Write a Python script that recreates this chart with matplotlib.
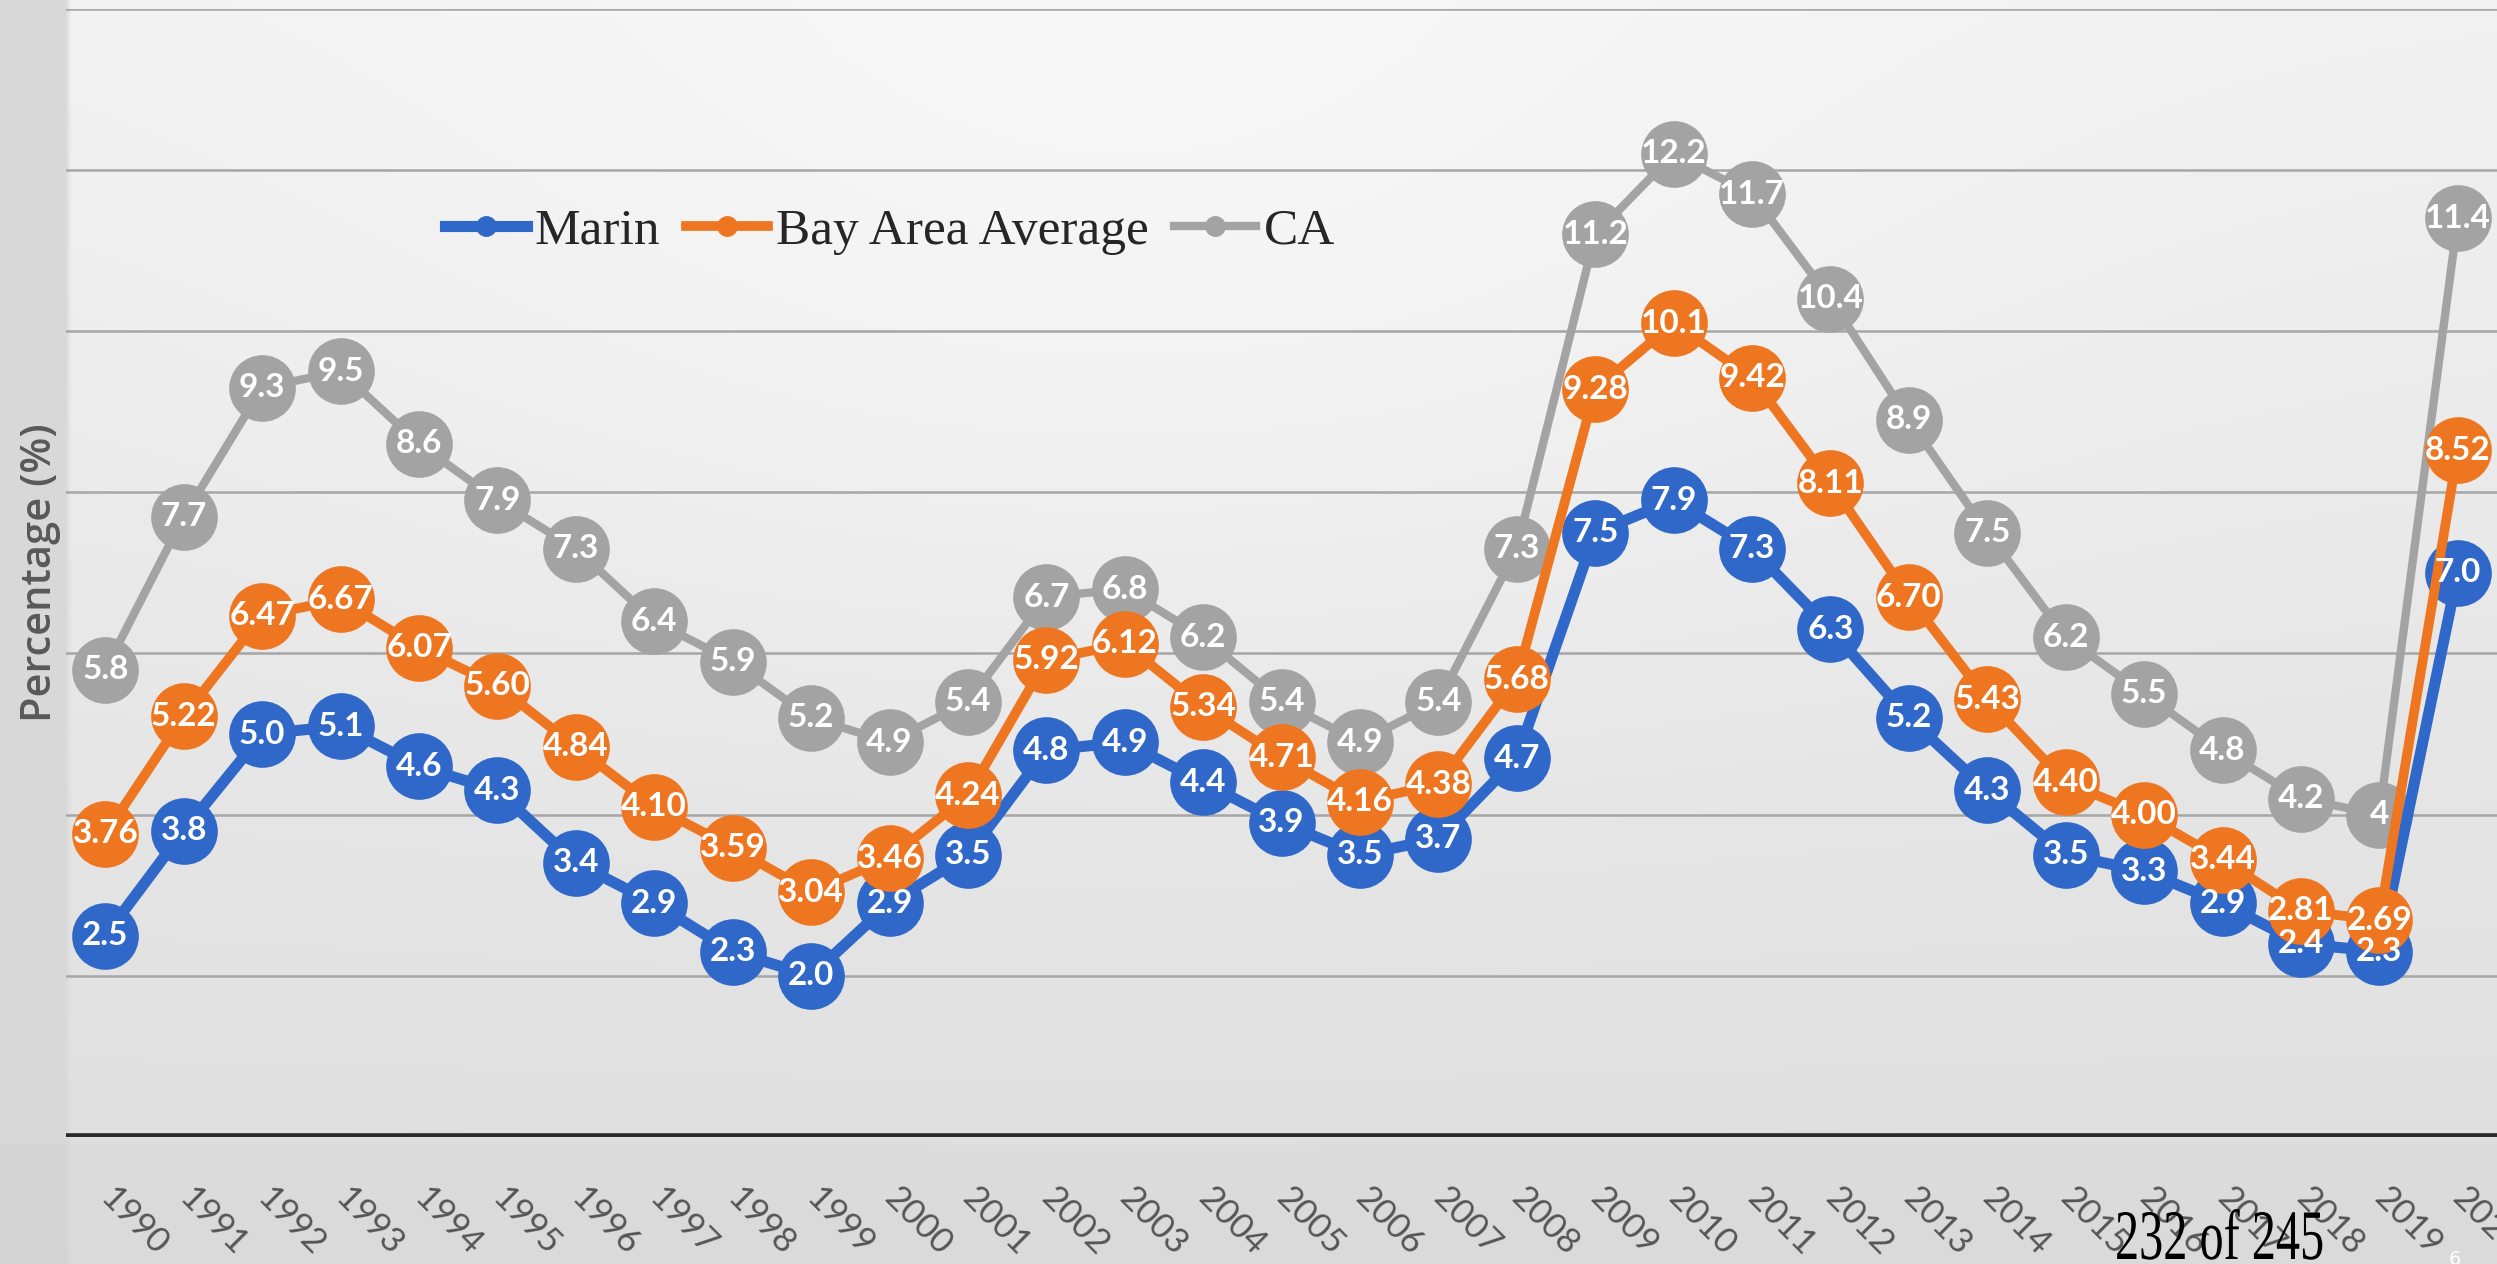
import numpy as np
import matplotlib.pyplot as plt
from matplotlib.lines import Line2D
from matplotlib.textpath import TextPath
from matplotlib.patches import PathPatch
from matplotlib.font_manager import FontProperties
from matplotlib.transforms import Affine2D

# Unemployment rate, annual averages
years = list(range(1990, 2021))
marin = [2.5, 3.8, 5.0, 5.1, 4.6, 4.3, 3.4, 2.9, 2.3, 2.0,
         2.9, 3.5, 4.8, 4.9, 4.4, 3.9, 3.5, 3.7, 4.7, 7.5,
         7.9, 7.3, 6.3, 5.2, 4.3, 3.5, 3.3, 2.9, 2.4, 2.3, 7.0]
bay_area = [3.76, 5.22, 6.47, 6.67, 6.07, 5.60, 4.84, 4.10, 3.59, 3.04,
            3.46, 4.24, 5.92, 6.12, 5.34, 4.71, 4.16, 4.38, 5.68, 9.28,
            10.1, 9.42, 8.11, 6.70, 5.43, 4.40, 4.00, 3.44, 2.81, 2.69, 8.52]
ca = [5.8, 7.7, 9.3, 9.5, 8.6, 7.9, 7.3, 6.4, 5.9, 5.2,
      4.9, 5.4, 6.7, 6.8, 6.2, 5.4, 4.9, 5.4, 7.3, 11.2,
      12.2, 11.7, 10.4, 8.9, 7.5, 6.2, 5.5, 4.8, 4.2, 4.0, 11.4]

# name, values, colour, line width, label format, zorder
series = [
    ("CA", ca, "#a3a3a3", 6.0, "{:g}", 3),
    ("Marin", marin, "#2f68c9", 8.0, "{:.1f}", 4),
    ("Bay Area Average", bay_area, "#ef7621", 7.0, "{:#.3g}", 5),
]

W, H = 2497, 1264
fig = plt.figure(figsize=(W / 100, H / 100), dpi=100)

# soft grey backdrop, a bit lighter towards the top middle
bg = fig.add_axes([0, 0, 1, 1])
gy, gx = np.mgrid[0:1:200j, 0:1:400j]
shade = 0.945 - 0.075 * gy
shade += 0.03 * np.exp(-((gx - 0.45) ** 2 / 0.12 + (gy - 0.2) ** 2 / 0.15))
shade[:, gx[0] < 0.026] = 0.85
shade[gy[:, 0] > 0.905, :] -= 0.015
bg.imshow(np.dstack([shade] * 3).clip(0, 1), extent=[0, 1, 0, 1], aspect="auto",
          interpolation="bilinear")
bg.axis("off")

ax = fig.add_axes([0.0265, 0.1005, 0.9735, 0.8925])
ax.patch.set_alpha(0)

for name, vals, col, lw, fmt, z in series:
    ax.plot(years, vals, color=col, lw=lw, marker="o", markersize=48,
            markeredgewidth=0, solid_capstyle="round", zorder=z)
    for x, v in zip(years, vals):
        ax.text(x, v, fmt.format(v), ha="center", va="center", color="white",
                fontsize=24, fontweight="bold", family="Lato", zorder=10)

ax.set_xlim(1989.5, 2020.5)
ax.set_ylim(0, 14)
ax.set_yticks(range(0, 15, 2))
ax.yaxis.grid(True, color="#a6a6a6", lw=1.8)
ax.set_axisbelow(True)
ax.axhline(0, color="#2a2a2a", lw=5.5, zorder=2)
for s in ax.spines.values():
    s.set_visible(False)
ax.tick_params(axis="y", left=False, labelleft=False)
ax.tick_params(axis="x", length=0, pad=40)
ax.set_xticks(years)
ax.set_xticklabels([str(y) for y in years], rotation=-45, ha="left", va="center",
                   rotation_mode="anchor", fontsize=25, family="Lato", color="#555555")

fig.text(0.016, 0.547, "Percentage (%)", rotation=90, ha="center", va="center",
         fontsize=30, family="Open Sans", fontweight="semibold", color="#595959")

handles = [Line2D([], [], color=col, lw=lw, marker="o", markersize=14)
           for name, _, col, lw, _, _ in [series[1], series[2], series[0]]]
labels = ["Marin", "Bay Area Average", "CA"]
fig.legend(handles, labels, loc="center", bbox_to_anchor=(0.3565, 0.817), ncol=3,
           frameon=False, handlelength=1.6, handletextpad=0.15, columnspacing=0.5,
           prop=FontProperties(family="Liberation Serif", size=37), labelcolor="#262626")

# page counter in a narrow serif
tp = TextPath((0, 0), "232 of 245", size=71, prop=FontProperties(family="Liberation Serif"))
fig.add_artist(PathPatch(tp, facecolor="black", lw=0,
                         transform=Affine2D().scale(0.68, 1.0).translate(2115, 5)))
fig.text(0.983, -0.004, "6", color="white", fontsize=14, ha="center", va="bottom")

fig.savefig("out.png", dpi=100)
